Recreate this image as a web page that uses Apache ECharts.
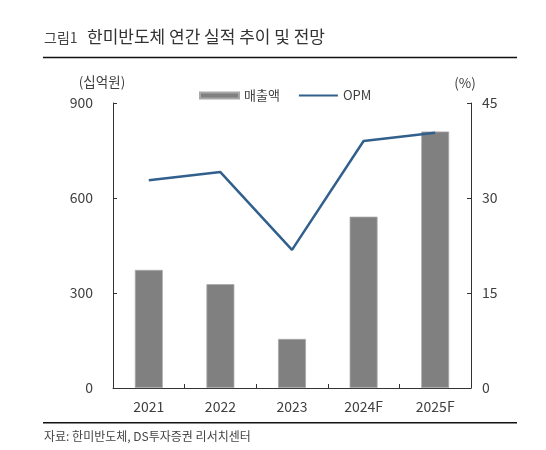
<!DOCTYPE html>
<html>
<head>
<meta charset="utf-8">
<script src="https://cdn.jsdelivr.net/npm/echarts@6/dist/echarts.min.js"></script>
<style>
  html, body { margin: 0; padding: 0; background: #fff; }
  #chart { width: 546px; height: 450px; }
</style>
</head>
<body>
<div id="chart"></div>
<script>
var years = ['2021', '2022', '2023', '2024F', '2025F'];
var sales = [373, 328, 155, 541, 810];   // 매출액 (십억원)
var opm = [32.8, 34.1, 21.8, 39.0, 40.3]; // OPM (%)
var salesTicks = [0, 900, 300];  // min, max, interval
var opmTicks = [0, 45, 15];

var FONT = '"Noto Sans CJK KR", "Noto Sans", sans-serif';
var TXT = '#404040';

var chart = echarts.init(document.getElementById('chart'));
chart.setOption({
  backgroundColor: '#fff',
  animation: false,
  textStyle: { fontFamily: FONT },
  grid: { left: 113, right: 75, top: 103, bottom: 62 },
  legend: {
    left: 194,
    top: 84,
    itemWidth: 39,
    itemHeight: 6,
    itemGap: 18,
    textStyle: { fontFamily: FONT, fontSize: 13, color: TXT },
    data: [
      { name: '매출액', icon: 'rect' },
      { name: 'OPM', itemStyle: { opacity: 0 }, lineStyle: { width: 2 } }
    ]
  },
  graphic: [
    { type: 'text', left: 44, top: 31, style: { text: '그림1', font: '14px ' + FONT, fill: '#444' } },
    { type: 'text', left: 87, top: 28, style: { text: '한미반도체 연간 실적 추이 및 전망', font: '17px ' + FONT, fill: '#333' } },
    { type: 'line', shape: { x1: 43, y1: 57.5, x2: 517, y2: 57.5 }, style: { stroke: '#111', lineWidth: 1.5 } },
    { type: 'text', x: 102, y: 82, style: { text: '(십억원)', font: '13.5px ' + FONT, fill: TXT, align: 'center', verticalAlign: 'middle' } },
    { type: 'text', x: 465, y: 83, style: { text: '(%)', font: '13.5px ' + FONT, fill: TXT, align: 'center', verticalAlign: 'middle' } },
    { type: 'line', shape: { x1: 43, y1: 422.7, x2: 517, y2: 422.7 }, style: { stroke: '#111', lineWidth: 1.5 } },
    { type: 'text', left: 44, top: 430, style: { text: '자료: 한미반도체, DS투자증권 리서치센터', font: '12px ' + FONT, fill: '#444' } }
  ],
  xAxis: {
    type: 'category',
    data: years,
    axisLine: { lineStyle: { color: '#333', width: 1 } },
    axisTick: { show: true, inside: true, length: 4, lineStyle: { color: '#333' } },
    axisLabel: { fontSize: 14, color: TXT, margin: 12, fontFamily: FONT }
  },
  yAxis: [
    {
      type: 'value',
      min: salesTicks[0], max: salesTicks[1], interval: salesTicks[2],
      axisLine: { show: true, lineStyle: { color: '#333', width: 1 } },
      axisTick: { show: true, inside: true, length: 4, lineStyle: { color: '#333' } },
      splitLine: { show: false },
      axisLabel: { fontSize: 14, color: TXT, margin: 20, fontFamily: FONT }
    },
    {
      type: 'value',
      min: opmTicks[0], max: opmTicks[1], interval: opmTicks[2],
      axisLine: { show: true, lineStyle: { color: '#333', width: 1 } },
      axisTick: { show: true, inside: true, length: 4, lineStyle: { color: '#333' } },
      splitLine: { show: false },
      axisLabel: { fontSize: 14, color: TXT, margin: 11, fontFamily: FONT }
    }
  ],
  series: [
    {
      name: '매출액',
      type: 'bar',
      yAxisIndex: 0,
      barWidth: '39%',
      itemStyle: { color: '#808080', borderColor: '#a8a8a8', borderWidth: 0.8 },
      data: sales
    },
    {
      name: 'OPM',
      type: 'line',
      yAxisIndex: 1,
      symbol: 'none',
      color: '#31608c',
      lineStyle: { color: '#31608c', width: 2.5 },
      data: opm
    }
  ]
});
</script>
</body>
</html>
